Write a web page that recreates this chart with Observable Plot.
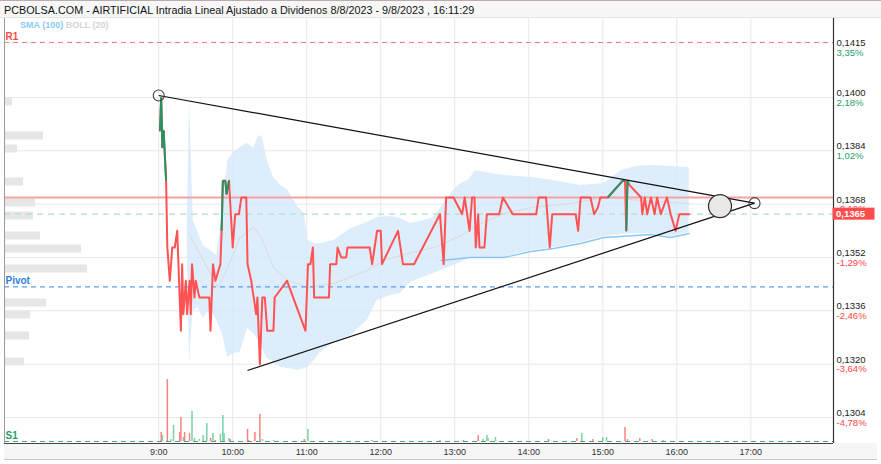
<!DOCTYPE html>
<html><head><meta charset="utf-8">
<script src="https://cdn.jsdelivr.net/npm/d3@7"></script>
<script src="https://cdn.jsdelivr.net/npm/@observablehq/plot@0.6"></script>
<style>
body{margin:0;background:#fff;font-family:"Liberation Sans",Arial,sans-serif;}
#wrap{position:relative;width:881px;height:464px;overflow:hidden;background:#fff;}
#wrap svg{position:absolute;left:0;top:0;overflow:visible;background:transparent;}
#titlebar{position:absolute;left:0;top:0;width:881px;height:18px;background:#f7f7f7;border-top:1px solid #bdaaaa;box-sizing:border-box;border-bottom:1px solid #e4e4e4;}
#title{position:absolute;left:4px;top:3px;white-space:nowrap;color:#111;font-size:11px;line-height:13px;}
#axisband{position:absolute;left:4px;top:443px;width:873px;height:16px;background:#f6f6f6;border-bottom:1px solid #c6c6c6;}
#legend{position:absolute;left:20px;top:20px;font-size:9px;font-weight:bold;white-space:nowrap;line-height:11px;}
</style></head>
<body><div id="wrap">
<div id="axisband"></div>
<div id="titlebar"><div id="title">PCBOLSA.COM - AIRTIFICIAL Intradia Lineal Ajustado a Dividenos 8/8/2023 - 9/8/2023 , 16:11:29</div></div>
</div>
<script>
// ---------- DATA ----------
const priceTimes = ["9:01","9:02","9:03","9:04","9:06","9:07","9:09","9:11","9:13","9:15",
 "9:16","9:18","9:19","9:20","9:22","9:23","9:25","9:26","9:27","9:29",
 "9:30","9:33","9:41","9:42","9:44","9:46","9:50","9:51","9:52","9:54",
 "9:55","9:57","10:00","10:02","10:05","10:07","10:11","10:12","10:15","10:19",
 "10:20","10:22","10:24","10:26","10:28","10:33","10:34","10:44","10:59","11:01",
 "11:03","11:05","11:06","11:18","11:19","11:24","11:25","11:28","11:32","11:33",
 "11:51","11:53","11:57","12:00","12:01","12:14","12:18","12:27","12:48","12:51",
 "12:53","12:59","13:06","13:08","13:12","13:14","13:16","13:17","13:19","13:20",
 "13:24","13:26","13:36","13:39","13:47","14:06","14:08","14:14","14:17","14:19",
 "14:38","14:40","14:42","14:50","14:53","14:56","14:58","15:04","15:16","15:18",
 "15:19","15:20","15:21","15:31","15:32","15:34","15:36","15:39","15:42","15:44",
 "15:47","15:52","15:55","15:59","16:02","16:10"];
const priceValues = [0.1390,0.1400,0.1385,0.1390,0.1375,0.1355,0.1345,0.1355,0.1355,0.1360,
 0.1350,0.1330,0.1350,0.1335,0.1345,0.1335,0.1345,0.1335,0.1350,0.1340,
 0.1345,0.1340,0.1340,0.1330,0.1350,0.1345,0.1350,0.1360,0.1375,0.1375,
 0.1371,0.1375,0.1355,0.1365,0.1365,0.1370,0.1370,0.1350,0.1345,0.1335,
 0.1340,0.1320,0.1340,0.1340,0.1330,0.1330,0.1340,0.1345,0.1330,0.1350,
 0.1350,0.1355,0.1340,0.1340,0.1350,0.1350,0.1355,0.1352,0.1352,0.1355,
 0.1355,0.1350,0.1360,0.1360,0.1350,0.1360,0.1350,0.1350,0.1365,0.1350,
 0.1370,0.1370,0.1365,0.1370,0.1360,0.1370,0.1370,0.1355,0.1365,0.1355,
 0.1355,0.1365,0.1365,0.1370,0.1365,0.1365,0.1370,0.1370,0.1355,0.1365,
 0.1365,0.1360,0.1370,0.1370,0.1365,0.1367,0.1370,0.1370,0.1375,0.1375,
 0.1360,0.1375,0.1374,0.1370,0.1365,0.1370,0.1365,0.1370,0.1365,0.1370,
 0.1365,0.1370,0.1365,0.1360,0.1365,0.1365];

const bandTimes = ["9:23","9:25","9:26","9:28","9:32","9:36","9:42","9:47","9:52","9:56",
 "10:01","10:06","10:12","10:17","10:21","10:24","10:28","10:33","10:39","10:45",
 "10:53","10:58","11:01","11:06","11:11","11:22","11:36","11:49","11:57","12:08",
 "12:16","12:24","12:32","12:43","12:53","12:59","13:05","13:11","13:17","13:29",
 "13:40","14:02","14:20","14:42","15:01","15:15","15:27","15:39","15:55","16:10"];
const bandUpper = [0.13586,0.14000,0.13871,0.13631,0.13595,0.13556,0.13541,0.13526,0.13661,0.13811,
 0.13835,0.13850,0.13862,0.13847,0.13886,0.13880,0.13811,0.13760,0.13736,0.13721,
 0.13670,0.13652,0.13571,0.13562,0.13562,0.13571,0.13607,0.13625,0.13640,0.13643,
 0.13637,0.13622,0.13628,0.13640,0.13691,0.13721,0.13742,0.13751,0.13781,0.13772,
 0.13766,0.13760,0.13751,0.13736,0.13742,0.13781,0.13793,0.13796,0.13793,0.13790];
const bandLower = [0.13586,0.13190,0.13271,0.13361,0.13370,0.13337,0.13367,0.13331,0.13286,0.13220,
 0.13232,0.13235,0.13307,0.13292,0.13271,0.13247,0.13217,0.13205,0.13190,0.13187,
 0.13181,0.13187,0.13190,0.13211,0.13235,0.13265,0.13286,0.13331,0.13391,0.13406,
 0.13412,0.13445,0.13457,0.13472,0.13487,0.13496,0.13505,0.13517,0.13520,0.13520,
 0.13520,0.13541,0.13550,0.13565,0.13583,0.13589,0.13592,0.13592,0.13583,0.13595];

const midTimes = ["9:24","9:34","9:48","9:56","10:06","10:17","10:23","10:33","10:45","11:01","11:22","11:49",
 "12:02","12:22","12:43","13:05","13:21","13:40","14:02","14:34","15:01","15:31","16:10"];
const midValues = [0.13595,0.13526,0.13430,0.13490,0.13580,0.13610,0.13580,0.13490,0.13451,0.13430,0.13442,0.13481,
 0.13511,0.13532,0.13550,0.13586,0.13622,0.13652,0.13670,0.13682,0.13700,0.13691,0.13682];

const smaTimes = ["12:49","13:13","13:40","14:02","14:20","14:42","15:01","15:39","15:55","16:10"];
const smaValues = [0.13511,0.13520,0.13520,0.13538,0.13547,0.13562,0.13580,0.13589,0.13580,0.13592];

const volTimes = ["9:02","9:03","9:07","9:10","9:12","9:17","9:18","9:20","9:21","9:25","9:27","9:29","9:33","9:36","9:39",
 "9:42","9:44","9:46","9:50","9:52","9:53","9:57","9:58","10:12","10:13","10:18","10:22","10:24","10:33","10:58","11:01",
 "11:53","12:48","13:07","13:19","13:23","13:26","13:27","13:33","14:16","14:39","14:43","14:52","15:00","15:03",
 "15:18","15:20","15:30","15:40","15:49"];
const volAmounts = [9000,6000,62000,2000,16000,9000,24000,4000,9000,8000,30000,3000,2000,6000,18000,
 3000,8000,1000,7000,26000,8000,3000,2000,12000,1000,9000,27000,2000,1000,2000,12000,
 1000,1000,1000,6000,2000,6000,3000,4000,2000,3000,8000,2000,4000,4000,
 14000,2000,3000,2000,1000];
const volSide = ["down","up","down","up","up","down","down","up","down","down","up","up","up","up","up",
 "down","up","down","up","up","up","up","down","down","down","down","down","up","up","down","up",
 "down","up","down","down","up","up","up","up","down","down","up","down","up","up",
 "down","down","down","down","up"];

const profilePrices = [0.13988,0.13886,0.13847,0.13748,0.13685,0.13646,0.13586,0.13547,0.13487,0.13385,0.13349,0.13286,0.13208];
const profileVolumes = [4,19.5,6.5,9.5,15.5,14.5,18,38.5,41.5,21,13,12.5,10];

const hourTicks = [9,10,11,12,13,14,15,16,17];
const gridPrices = [0.1400,0.1384,0.1368,0.1352,0.1336,0.1320,0.1304];
const tickPrices = [0.1415,0.1400,0.1384,0.1368,0.1352,0.1336,0.1320,0.1304];
const tickPercents = ["3,35%","2,18%","1,02%","-0,12%","-1,29%","-2,46%","-3,64%","-4,78%"];

const R1 = 0.14165, PIVOT = 0.13432, S1 = 0.12968;
const PREV_CLOSE = 0.1370, LAST = 0.1365;

const trendTop = {t:"9:00", p:0.14006};
const trendApex = {t:"17:03", p:0.13683};
const trendLow = {t:"10:12", p:0.13181};
const bigMarker = {t:"16:35", p:0.13674};

// ---------- HELPERS ----------
const H = s => { const [h,m] = s.split(":").map(Number); return h + m/60; };
const fmt = v => d3.format(".4f")(v).replace(".", ",");
const xDomain = [H("6:55"), H("18:07")];
const yDomain = [0.12962, 0.14237];
const W = 881, HT = 464;
const M = {marginTop:18, marginBottom:21, marginLeft:4, marginRight:48};
const FONT = '"Liberation Sans", Arial, sans-serif';

const RED = "#ff5252", GREEN = "#289263";

const pts = priceTimes.map((t,i)=>({t:H(t), p:priceValues[i]}));
const greenSegs = pts.slice(1).map((d,i)=>({t1:pts[i].t,p1:pts[i].p,t2:d.t,p2:d.p})).filter(s=>s.p2>PREV_CLOSE);
const band = bandTimes.map((t,i)=>({t:H(t), hi:bandUpper[i], lo:bandLower[i]}));
const mid = midTimes.map((t,i)=>({t:H(t), p:midValues[i]}));
const sma = smaTimes.map((t,i)=>({t:H(t), p:smaValues[i]}));
const vols = volTimes.map((t,i)=>({t:H(t), v:volAmounts[i], side:volSide[i]}));
const profile = profilePrices.map((p,i)=>({p, v:profileVolumes[i]}));
const ticks = tickPrices.map((p,i)=>({p, label:fmt(p), pct:tickPercents[i]}));
const tri = [trendTop, trendApex, trendLow].map(d=>({t:H(d.t), p:d.p}));
const trendLines = [{a:tri[0], b:tri[1]}, {a:tri[2], b:tri[1]}];
const levelLabels = [{p:R1, text:"R1", c:"#ff4b4b"},{p:PIVOT, text:"Pivot", c:"#2f7fe0"},{p:S1, text:"S1", c:"#2a9d6c"}];

const wrap = document.getElementById("wrap");

// ---------- MAIN PLOT ----------
const main = Plot.plot({
  width:W, height:HT, ...M,
  style:{fontFamily:FONT, background:"transparent", overflow:"visible"},
  x:{domain:xDomain, axis:null},
  y:{domain:yDomain, axis:null},
  marks:[
    Plot.gridY(gridPrices, {stroke:"#e8e8e8", strokeOpacity:1}),
    Plot.gridX(hourTicks, {stroke:"#e8e8e8", strokeOpacity:1}),
    Plot.areaY(band, {x:"t", y1:"lo", y2:"hi", fill:"#d4e9fa", fillOpacity:0.8, curve:"linear"}),
    Plot.line(mid, {x:"t", y:"p", stroke:"#dadada", strokeWidth:1}),
    Plot.line(sma, {x:"t", y:"p", stroke:"#8ac8f4", strokeWidth:1.3}),
    Plot.ruleY([R1], {stroke:"#ff7b7b", strokeDasharray:"5,4", strokeWidth:1}),
    Plot.ruleY([PIVOT], {stroke:"#5b9ff0", strokeDasharray:"5,4", strokeWidth:1.2}),
    Plot.ruleY([S1], {stroke:"#4aa97f", strokeDasharray:"5,4", strokeWidth:1.2}),
    Plot.ruleY([LAST], {stroke:"#b4e0cb", strokeDasharray:"6,5", strokeWidth:1.2}),
    Plot.ruleY([PREV_CLOSE], {stroke:"#f5a3a3", strokeWidth:2}),
    Plot.line(pts, {x:"t", y:"p", stroke:RED, strokeWidth:2, curve:"linear"}),
    Plot.link(greenSegs, {x1:"t1", y1:"p1", x2:"t2", y2:"p2", stroke:GREEN, strokeWidth:2}),
    Plot.link(trendLines, {x1:d=>d.a.t, y1:d=>d.a.p, x2:d=>d.b.t, y2:d=>d.b.p, stroke:"#111", strokeWidth:1.2}),
    Plot.dot([tri[0], tri[1]], {x:"t", y:"p", r:5.5, stroke:"#444", fill:"none", strokeWidth:1.1}),
    Plot.dot([bigMarker], {x:d=>H(d.t), y:"p", r:11.5, stroke:"#333", fill:"#e8e8e8", strokeWidth:1.2}),
    Plot.ruleX([xDomain[0]], {stroke:"#9a9a9a", strokeWidth:1}),
    Plot.ruleX([xDomain[1]], {stroke:"#333", strokeWidth:1.2}),
    Plot.ruleY([yDomain[0]], {stroke:"#444", strokeWidth:1.2}),
    Plot.axisX(hourTicks, {tickSize:0, tickPadding:5, tickFormat:h=>`${h}:00`, fontSize:9, fill:"#333", anchor:"bottom"}),
    Plot.text(levelLabels, {y:"p", text:"text", fill:"c", frameAnchor:"left", textAnchor:"start", dx:1, dy:-6, fontSize:10, fontWeight:"bold"}),
    Plot.text(ticks, {y:"p", text:"label", frameAnchor:"right", textAnchor:"start", dx:3, dy:-4.5, fontSize:9.5, fill:"#222"}),
    Plot.text(ticks, {y:"p", text:"pct", frameAnchor:"right", textAnchor:"start", dx:3, dy:5, fontSize:9.5, fill:d=>d.pct.startsWith("-")?"#ff4444":"#23a06b"})
  ]
});
wrap.appendChild(main);

// price tag on the right axis, positioned via the plot's y scale
const yS = main.scale("y");
const ty = yS.apply(LAST);
const gTag = d3.select(main).append("g").attr("text-anchor","start").attr("font-family", FONT);
gTag.append("rect").attr("x", 832.5).attr("y", ty-6).attr("width", 42).attr("height", 12).attr("fill", "#ff4d4d");
gTag.append("text").attr("x", 836).attr("y", ty).attr("dy","0.35em").attr("fill","#fff")
  .attr("text-anchor","start").attr("font-size", 9.5).attr("font-weight","bold").text(fmt(LAST));

// ---------- VOLUME OVERLAY ----------
const volPlot = Plot.plot({
  width:W, height:HT, ...M,
  style:{background:"transparent", overflow:"visible"},
  x:{domain:xDomain, axis:null},
  y:{domain:[0, 62000], range:[441, 379], axis:null},
  marks:[
    Plot.ruleX(vols, {x:"t", y1:0, y2:"v", stroke:d=>d.side==="up"?"#78d4a2":"#ff8080", strokeWidth:1.5})
  ]
});
wrap.appendChild(volPlot);

// ---------- VOLUME PROFILE OVERLAY ----------
const profPlot = Plot.plot({
  width:W, height:HT, ...M,
  style:{background:"transparent", overflow:"visible"},
  x:{domain:[0,100], range:[4,204], axis:null},
  y:{domain:yDomain, axis:null},
  marks:[
    Plot.ruleY(profile, {y:"p", x1:0, x2:"v", stroke:"#e6e6e6", strokeWidth:8})
  ]
});
wrap.insertBefore(profPlot, main);

// legend
const leg = document.createElement("div");
leg.id = "legend";
leg.innerHTML = '<span style="color:#8ccaf5">SMA (100)</span> <span style="color:#d4d4d4">BOLL (20)</span>';
wrap.appendChild(leg);

// fit title width
const title = document.getElementById("title");
const cv = document.createElement("canvas").getContext("2d");
cv.font = `11px ${FONT}`;
const w11 = cv.measureText(title.textContent).width;
title.style.fontSize = (11 * 472 / w11).toFixed(2) + "px";
</script>
</body></html>
